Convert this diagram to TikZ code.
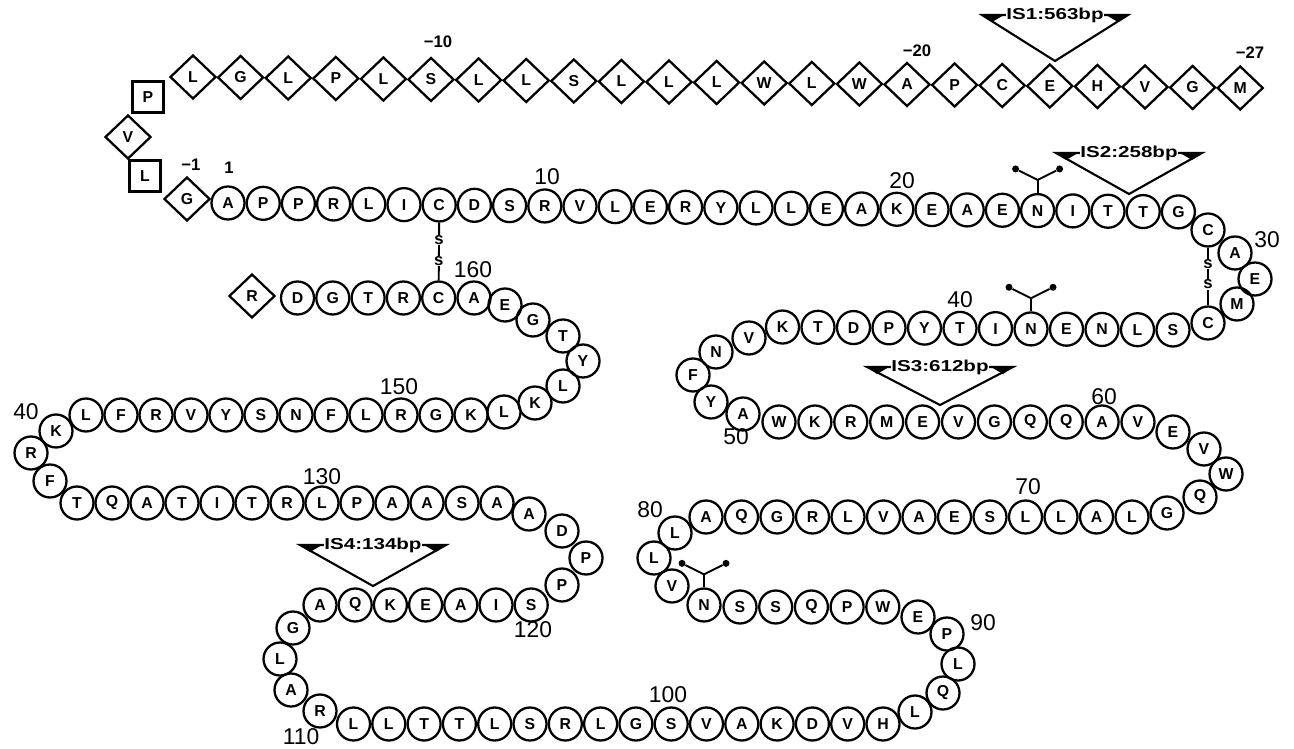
\documentclass[tikz,border=0pt]{standalone}
\usepackage{fontspec}
\setmainfont{Liberation Sans}
\usetikzlibrary{shapes.geometric}

\begin{document}
\begin{tikzpicture}[x=0.02cm, y=-0.02cm,
  aa/.style={circle, draw, line width=1.3pt, minimum size=0.66cm, inner sep=0pt, font=\fontsize{9}{9}\selectfont\bfseries},
  sp/.style={diamond, draw, line width=1.3pt, minimum width=0.92cm, minimum height=0.88cm, inner sep=0pt, font=\fontsize{9}{9}\selectfont\bfseries},
  sq/.style={rectangle, draw, line width=1.3pt, minimum size=0.62cm, inner sep=0pt, font=\fontsize{9}{9}\selectfont\bfseries},
  seqnum/.style={font=\fontsize{13}{13}\selectfont},
  signum/.style={font=\fontsize{9.5}{9.5}\selectfont\bfseries},
  ssbond/.style={fill=white, inner sep=0.2pt, font=\fontsize{9.5}{9.5}\selectfont\bfseries},
  glyc/.style={circle, fill, inner sep=0pt, minimum size=0.14cm},
  islabel/.style={fill=white, inner sep=0.5pt, font=\fontsize{9}{9}\selectfont\bfseries},
  link/.style={line width=1.1pt}]
  \useasboundingbox (0,0) rectangle (1294,749);

  % signal peptide
  \foreach \res [count=\i from 0] in {L,G,L,P,L,S,L,L,S,L,L,L,W,L,W,A,P,C,E,H,V,G,M} {
    \pgfmathtruncatemacro\n{\i+5}
    \node[sp] (m\n) at ({193+47.6*\i},{77+0.5*\i}) {\res};
  }
  \node[sq] (m4) at (148,97) {P};
  \node[sp] (m3) at (128,137) {V};
  \node[sq] (m2) at (145,176) {L};
  \node[sp] (m1) at (187,199) {G};

  % mature chain
  \foreach \res [count=\i] in {A,P,P,R,L,I,C,D,S,R,V,L,E,R,Y,L,L,E,A,K,E,A,E,N,I,T,T,G}
    \node[aa] (r\i) at ({228+35.2*(\i-1)},{203+0.33*(\i-1)}) {\res};
  \foreach \res/\i/\px/\py in {C/29/1208/230, A/30/1235/253, E/31/1255/279, M/32/1237/304, C/33/1208/323}
    \node[aa] (r\i) at (\px,\py) {\res};
  \foreach \res [count=\k from 0] in {S,L,N,E,N,I,T,Y,P,D,T,K} {
    \pgfmathtruncatemacro\n{\k+34}
    \node[aa] (r\n) at ({1173-35.5*\k},{330-0.27*\k}) {\res};
  }
  \foreach \res/\i/\px/\py in {V/46/749/338, N/47/716/352, F/48/693/375, Y/49/711/402, A/50/743/414}
    \node[aa] (r\i) at (\px,\py) {\res};
  \foreach \res [count=\k from 0] in {W,K,R,M,E,V,G,Q,Q,A,V} {
    \pgfmathtruncatemacro\n{\k+51}
    \node[aa] (r\n) at ({779+35.9*\k},422) {\res};
  }
  \foreach \res/\i/\px/\py in {E/62/1173/432, V/63/1204/449, W/64/1226/474, Q/65/1200/497, G/66/1167/513}
    \node[aa] (r\i) at (\px,\py) {\res};
  \foreach \res [count=\k from 0] in {L,A,L,L,S,E,A,V,L,R,G,Q,A} {
    \pgfmathtruncatemacro\n{\k+67}
    \node[aa] (r\n) at ({1132-35.5*\k},517) {\res};
  }
  \foreach \res/\i/\px/\py in {L/80/675/533, L/81/654/558, V/82/672/586, N/83/704/605}
    \node[aa] (r\i) at (\px,\py) {\res};
  \foreach \res [count=\k from 0] in {S,S,Q,P,W} {
    \pgfmathtruncatemacro\n{\k+84}
    \node[aa] (r\n) at ({740+35.7*\k},607) {\res};
  }
  \foreach \res/\i/\px/\py in {E/89/918/617, P/90/947/634, L/91/958/664, Q/92/943/693, L/93/915/712}
    \node[aa] (r\i) at (\px,\py) {\res};
  \foreach \res [count=\k from 0] in {H,V,D,K,A,V,S,G,L,R,S,L,T,T,L,L} {
    \pgfmathtruncatemacro\n{\k+94}
    \node[aa] (r\n) at ({883-35.3*\k},724) {\res};
  }
  \foreach \res/\i/\px/\py in {R/110/320/711, A/111/291/690, L/112/280/659, G/113/293/628}
    \node[aa] (r\i) at (\px,\py) {\res};
  \foreach \res [count=\k from 0] in {A,Q,K,E,A,I,S} {
    \pgfmathtruncatemacro\n{\k+114}
    \node[aa] (r\n) at ({320+35.2*\k},605) {\res};
  }
  \foreach \res/\i/\px/\py in {P/121/562/585, P/122/586/558, D/123/562/531, A/124/529/514}
    \node[aa] (r\i) at (\px,\py) {\res};
  \foreach \res [count=\k from 0] in {A,S,A,A,P,L,R,T,I,T,A,Q,T} {
    \pgfmathtruncatemacro\n{\k+125}
    \node[aa] (r\n) at ({497-35*\k},503) {\res};
  }
  \foreach \res/\i/\px/\py in {F/138/50/481, R/139/31/453, K/140/56/431}
    \node[aa] (r\i) at (\px,\py) {\res};
  \foreach \res [count=\k from 0] in {L,F,R,V,Y,S,N,F,L,R,G,K} {
    \pgfmathtruncatemacro\n{\k+141}
    \node[aa] (r\n) at ({86+35*\k},415) {\res};
  }
  \foreach \res/\i/\px/\py in {L/153/504/412, K/154/535/403, L/155/563/386, Y/156/583/361, T/157/563/336, G/158/533/320, E/159/505/305}
    \node[aa] (r\i) at (\px,\py) {\res};
  \foreach \res [count=\k from 0] in {A,C,R,T,G,D} {
    \pgfmathtruncatemacro\n{\k+160}
    \node[aa] (r\n) at ({474-35.3*\k},298) {\res};
  }
  \node[sp] (r166) at (252,296) {R};

  % disulfide bridges
  \draw[link] (r7.south) -- (r161.north)
    node[ssbond, pos=0.3] (s7a) {s} node[ssbond, pos=0.66] (s7b) {s};
  \draw[link] (r29.south) -- (r33.north)
    node[ssbond, pos=0.28] (s29a) {s} node[ssbond, pos=0.64] (s29b) {s};

  % glycosylation sites
  \foreach \g in {24,38,83} {
    \draw[link] (r\g.north) -- ++(0,-13) coordinate (b\g);
    \path (b\g) ++(-22,-11) node[glyc] (ga\g) {};
    \path (b\g) ++(22,-11) node[glyc] (gb\g) {};
    \draw[link] (ga\g) -- (b\g) -- (gb\g);
  }

  % insertion sites
  \foreach \lab/\cx/\ty/\ay/\nm in {IS1:563bp/1055/15/61/isa, IS2:258bp/1129/153/194/isb, IS3:612bp/940/367/405/isc, IS4:134bp/373/545/586/isd} {
    \coordinate (\nm l) at ({\cx-73},\ty);
    \coordinate (\nm r) at ({\cx+73},\ty);
    \coordinate (\nm a) at (\cx,\ay);
    \draw[line width=1.2pt] (\nm l) -- (\nm a) -- (\nm r) -- cycle;
    \fill (\nm l) -- ++(22,0) -- ++(-12,7) -- cycle;
    \fill (\nm r) -- ++(-22,0) -- ++(12,7) -- cycle;
    \node[islabel] (\nm) at (\cx,\ty) {\scalebox{1.3}[1]{\lab}};
  }

  % numbering
  \node[signum] (nm10) at (438,42) {−10};
  \node[signum] (nm20) at (917,51) {−20};
  \node[signum] (nm27) at (1250,53) {−27};
  \node[signum] (nm1) at (191,165) {−1};
  \node[signum] (n1) at (229,168) {1};
  \foreach \t/\px/\py in {10/547/177, 20/902/181, 30/1267/240, 40/960/300, 50/736/437, 60/1104/397, 70/1028/487, 80/650/510, 90/983/623, 100/668/695, 110/301/737, 120/533/630, 130/322/477, 150/399/387, 160/473/270}
    \node[seqnum] (n\t) at (\px,\py) {\t};
  \node[seqnum] (n140) at (26,412) {40};
\end{tikzpicture}
\end{document}
